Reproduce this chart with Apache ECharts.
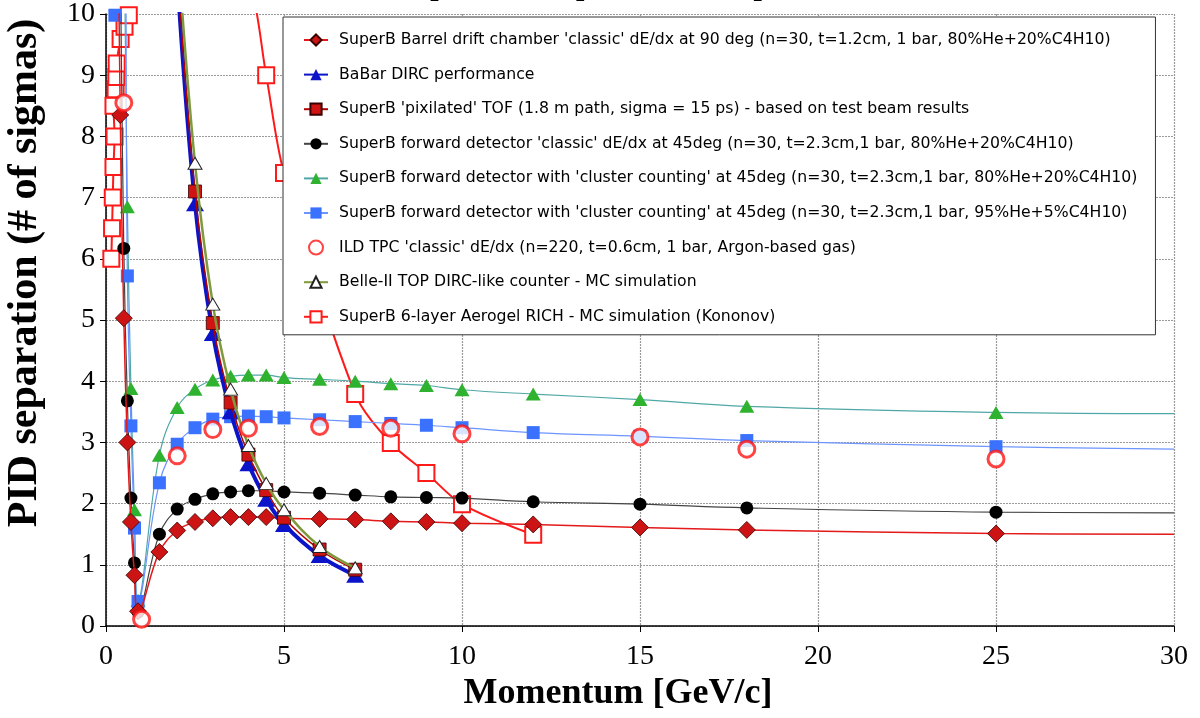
<!DOCTYPE html>
<html>
<head>
<meta charset="utf-8">
<script src="https://cdn.jsdelivr.net/npm/echarts@6/dist/echarts.min.js"></script>
<style>html,body{margin:0;padding:0;background:#fff}#c{width:1200px;height:718px}</style>
</head>
<body>
<div id="c"></div>
<script>
// ---- data (momentum GeV/c, separation in sigmas); values > 10 are off-scale, lines leave the top ----
const titleText = "π/K separation capabilities comparison";
const xAxisName = "Momentum [GeV/c]";
const yAxisName = "PID separation (# of sigmas)";

const barrelName = "SuperB Barrel drift chamber 'classic' dE/dx at 90 deg (n=30, t=1.2cm, 1 bar, 80%He+20%C4H10)";
const barrelX = [0.3, 0.4, 0.5, 0.6, 0.7, 0.8, 0.9, 1.5, 2, 2.5, 3, 3.5, 4, 4.5, 5, 6, 7, 8, 9, 10, 12, 15, 18, 25, 30];
const barrelY = [14, 8.35, 5.03, 3.0, 1.70, 0.83, 0.24, 1.21, 1.56, 1.70, 1.76, 1.78, 1.78, 1.78, 1.76, 1.75, 1.74, 1.71, 1.70, 1.68, 1.66, 1.61, 1.57, 1.51, 1.50];

const dircName = "BaBar DIRC performance";
const dircX = [2, 2.5, 3, 3.5, 4, 4.5, 5, 6, 7];
const dircY = [10.6, 6.9, 4.78, 3.5, 2.65, 2.07, 1.66, 1.15, 0.83];

const tofName = "SuperB 'pixilated' TOF (1.8 m path, sigma = 15 ps) - based on test beam results";
const tofX = [2, 2.5, 3, 3.5, 4, 4.5, 5, 6, 7];
const tofY = [10.8, 7.1, 4.95, 3.65, 2.80, 2.22, 1.77, 1.25, 0.92];

const fwdName = "SuperB forward detector 'classic' dE/dx at 45deg (n=30, t=2.3cm,1 bar, 80%He+20%C4H10)";
const fwdX = [0.4, 0.5, 0.6, 0.7, 0.8, 0.9, 1.5, 2, 2.5, 3, 3.5, 4, 4.5, 5, 6, 7, 8, 9, 10, 12, 15, 18, 25, 30];
const fwdY = [11, 6.17, 3.68, 2.09, 1.03, 0.23, 1.50, 1.91, 2.07, 2.16, 2.19, 2.21, 2.21, 2.19, 2.17, 2.14, 2.11, 2.10, 2.09, 2.03, 1.99, 1.93, 1.86, 1.85];

const cc80Name = "SuperB forward detector with 'cluster counting' at 45deg (n=30, t=2.3cm,1 bar, 80%He+20%C4H10)";
const cc80X = [0.5, 0.6, 0.7, 0.8, 0.9, 1.5, 2, 2.5, 3, 3.5, 4, 4.5, 5, 6, 7, 8, 9, 10, 12, 15, 18, 25, 30];
const cc80Y = [12, 6.85, 3.88, 1.90, 0.42, 2.79, 3.57, 3.87, 4.02, 4.08, 4.10, 4.10, 4.06, 4.03, 4.00, 3.96, 3.93, 3.86, 3.79, 3.70, 3.59, 3.49, 3.47];

const cc95Name = "SuperB forward detector with 'cluster counting' at 45deg (n=30, t=2.3cm,1 bar, 95%He+5%C4H10)";
const cc95X = [0.25, 0.5, 0.6, 0.7, 0.8, 0.9, 1.5, 2, 2.5, 3, 3.5, 4, 4.5, 5, 6, 7, 8, 9, 10, 12, 15, 18, 25, 30];
const cc95Y = [9.98, 12, 5.72, 3.27, 1.60, 0.40, 2.34, 2.97, 3.24, 3.38, 3.42, 3.43, 3.42, 3.40, 3.37, 3.34, 3.31, 3.28, 3.24, 3.16, 3.10, 3.03, 2.93, 2.89];

const ildName = "ILD TPC 'classic' dE/dx (n=220, t=0.6cm, 1 bar, Argon-based gas)";
const ildX = [0.5, 1, 2, 3, 4, 6, 8, 10, 15, 18, 25];
const ildY = [8.55, 0.11, 2.78, 3.21, 3.23, 3.26, 3.23, 3.14, 3.09, 2.89, 2.73];

const topName = "Belle-II TOP DIRC-like counter - MC simulation";
const topX = [2, 2.5, 3, 3.5, 4, 4.5, 5, 6, 7];
const topY = [11.2, 7.56, 5.26, 3.87, 2.95, 2.33, 1.90, 1.30, 0.95];

const richName = "SuperB 6-layer Aerogel RICH - MC simulation (Kononov)";
const richX = [0.15, 0.17, 0.19, 0.21, 0.24, 0.21, 0.27, 0.29, 0.30, 0.41, 0.52, 0.64, 1, 2, 3, 4, 4.5, 5, 7, 8, 9, 10, 12];
const richY = [6.0, 6.5, 7.0, 7.5, 8.0, 8.5, 8.77, 8.97, 9.19, 9.59, 9.79, 9.98, 13, 12.5, 11.5, 10.6, 9.0, 7.4, 3.79, 2.99, 2.50, 1.99, 1.49];

const xTicks = [0, 5, 10, 15, 20, 25, 30];
const yTicks = [0, 1, 2, 3, 4, 5, 6, 7, 8, 9, 10];

// ---- build ----
function pairs(xs, ys, lastNoMarkerAt) {
  return xs.map((x, i) => {
    const p = { value: [x, ys[i]] };
    if (lastNoMarkerAt !== undefined && x === lastNoMarkerAt) p.symbol = 'none';
    return p;
  });
}

const chart = echarts.init(document.getElementById('c'), null, { renderer: 'canvas' });
const serif = "'Liberation Serif', 'Times New Roman', serif";
const sans = "'DejaVu Sans', Verdana, sans-serif";

const option = {
  animation: false,
  backgroundColor: '#ffffff',
  title: {
    text: titleText, left: 'center', top: -33,
    textStyle: { fontFamily: serif, fontWeight: 'bold', fontSize: 30, color: '#000' }
  },
  grid: { left: 106, right: 26, top: 14, bottom: 92, show: false, containLabel: false, outerBoundsMode: 'none' },
  legend: {
    orient: 'vertical', left: 283, top: 17,
    backgroundColor: '#ffffff', borderColor: '#333', borderWidth: 1,
    padding: [15, 18, 10, 20],
    itemGap: 18.6, itemWidth: 24, itemHeight: 14,
    textStyle: { fontFamily: sans, fontSize: 15.7, color: '#000', padding: [0, 0, 0, 6] },
    data: [barrelName, dircName, tofName, fwdName, cc80Name, cc95Name, ildName, topName, richName]
  },
  xAxis: {
    type: 'value', min: 0, max: 30, interval: 5,
    name: xAxisName, nameLocation: 'middle', nameGap: 50,
    nameTextStyle: { fontFamily: serif, fontWeight: 'bold', fontSize: 36, color: '#000', padding: [0, 44, 0, 0] },
    axisLine: { show: true, onZero: false, lineStyle: { color: '#000', width: 1.5 } },
    axisTick: { show: true, inside: false, length: 6, lineStyle: { color: '#000' } },
    axisLabel: { fontFamily: serif, fontSize: 28, color: '#000', margin: 17,
      formatter: v => xTicks.includes(v) ? String(v) : '' },
    splitLine: { show: true, lineStyle: { color: '#9a9a9a', width: 1.2, type: [2, 1] } }
  },
  yAxis: {
    type: 'value', min: 0, max: 10, interval: 1,
    name: yAxisName, nameLocation: 'middle', nameGap: 60, nameRotate: 90,
    nameTextStyle: { fontFamily: serif, fontWeight: 'bold', fontSize: 42, color: '#000', padding: [0, 0, 0, 94] },
    axisLine: { show: true, onZero: false, lineStyle: { color: '#000', width: 1.5 } },
    axisTick: { show: true, inside: false, length: 6, lineStyle: { color: '#000' } },
    axisLabel: { fontFamily: serif, fontSize: 28, color: '#000', margin: 11,
      formatter: v => yTicks.includes(v) ? String(v) : '' },
    splitLine: { show: true, lineStyle: { color: '#9a9a9a', width: 1.2, type: [2, 1] } }
  },
  series: [
    {
      name: richName, type: 'line', z: 2, clip: true, smooth: 0.3,
      data: pairs(richX, richY),
      symbol: 'rect', symbolSize: 16,
      lineStyle: { color: '#ff1a1a', width: 2 },
      itemStyle: { color: '#ffffff', borderColor: '#ff1a1a', borderWidth: 2 }
    },
    {
      name: cc80Name, type: 'line', z: 3, clip: true, smooth: 0.4,
      data: pairs(cc80X, cc80Y, 30),
      symbol: 'triangle', symbolSize: [15, 13],
      lineStyle: { color: '#4fa8a6', width: 1.2 },
      itemStyle: { color: '#2fb22f', borderColor: '#2fb22f', borderWidth: 0 }
    },
    {
      name: cc95Name, type: 'line', z: 3, clip: true, smooth: 0.4,
      data: pairs(cc95X, cc95Y, 30),
      symbol: 'rect', symbolSize: 13,
      lineStyle: { color: '#6d95ff', width: 1.2 },
      itemStyle: { color: '#3a72ff', borderColor: '#3a72ff', borderWidth: 0 }
    },
    {
      name: fwdName, type: 'line', z: 3, clip: true, smooth: 0.4,
      data: pairs(fwdX, fwdY, 30),
      symbol: 'circle', symbolSize: 13,
      lineStyle: { color: '#444444', width: 1.2 },
      itemStyle: { color: '#000000', borderColor: '#000000', borderWidth: 0 }
    },
    {
      name: barrelName, type: 'line', z: 4, clip: true, smooth: 0.4,
      data: pairs(barrelX, barrelY, 30),
      symbol: 'diamond', symbolSize: [17, 17],
      lineStyle: { color: '#e41a1a', width: 1.5 },
      itemStyle: { color: '#cc1414', borderColor: '#3a0000', borderWidth: 0.8 }
    },
    {
      name: dircName, type: 'line', z: 5, clip: true, smooth: 0.4,
      data: pairs(dircX, dircY),
      symbol: 'triangle', symbolSize: [18, 15],
      lineStyle: { color: '#0b14c8', width: 4 },
      itemStyle: { color: '#0b14c8', borderColor: '#0b14c8', borderWidth: 0 }
    },
    {
      name: tofName, type: 'line', z: 6, clip: true, smooth: 0.4,
      data: pairs(tofX, tofY),
      symbol: 'rect', symbolSize: 13,
      lineStyle: { color: '#b30000', width: 1.5 },
      itemStyle: { color: '#d01414', borderColor: '#3a0000', borderWidth: 0.8 }
    },
    {
      name: topName, type: 'line', z: 7, clip: true, smooth: 0.4,
      data: pairs(topX, topY),
      symbol: 'triangle', symbolSize: [14, 12],
      lineStyle: { color: '#7f9a3c', width: 2.5 },
      itemStyle: { color: '#ffffff', borderColor: '#222222', borderWidth: 1 }
    },
    {
      name: ildName, type: 'scatter', z: 8, clip: true,
      data: pairs(ildX, ildY),
      symbol: 'circle', symbolSize: 16,
      itemStyle: { color: '#ffffff', borderColor: '#ff1414', borderWidth: 3 }
    }
  ]
};
chart.setOption(option);
</script>
</body>
</html>
